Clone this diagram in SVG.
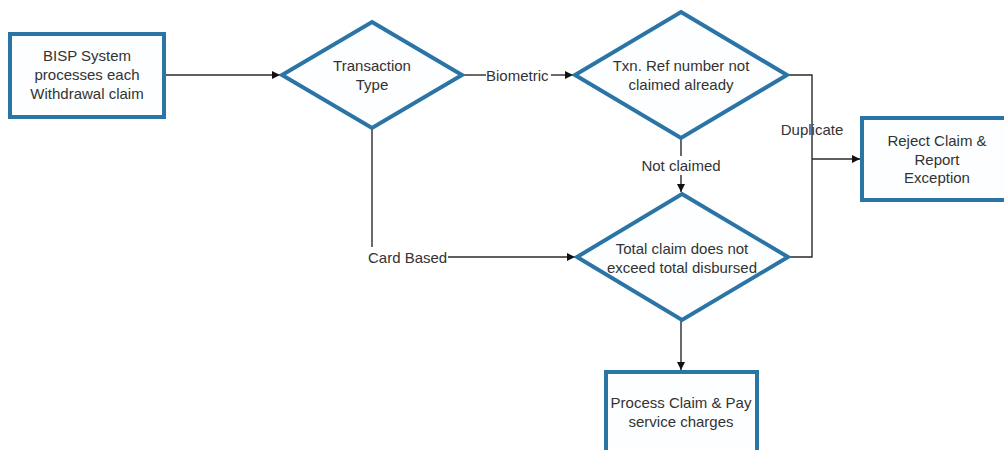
<svg xmlns="http://www.w3.org/2000/svg" width="1004" height="450" viewBox="0 0 1004 450">
<defs>
<style>
.node{fill:#fcfeff;stroke:#2b74a6;stroke-width:4;stroke-linejoin:miter}
.t{font-family:"Liberation Sans",Arial,sans-serif;font-size:15px;fill:#333;text-anchor:middle;dominant-baseline:central}
.lbl{font-family:"Liberation Sans",Arial,sans-serif;font-size:15px;fill:#333;dominant-baseline:central}
.c{fill:none;stroke:#2a2a2a;stroke-width:1.4}
</style>
<marker id="ah" viewBox="0 0 10 10" refX="10" refY="5" markerWidth="8" markerHeight="8" markerUnits="userSpaceOnUse" orient="auto">
<path d="M0,0 L10,5 L0,10 z" fill="#111"/>
</marker>
</defs>
<rect width="1004" height="450" fill="#ffffff"/>
<g id="connectors">
<path class="c" d="M164,75 H280" marker-end="url(#ah)"/>
<path class="c" d="M462,75 H486"/>
<path class="c" d="M551,75 H573" marker-end="url(#ah)"/>
<path class="c" d="M372,128 V247"/>
<path class="c" d="M448,257 H575" marker-end="url(#ah)"/>
<path class="c" d="M681,138 V156"/>
<path class="c" d="M681,175 V192" marker-end="url(#ah)"/>
<path class="c" d="M787,75 H812 V257 H788"/>
<path class="c" d="M812,159 H860" marker-end="url(#ah)"/>
<path class="c" d="M681,320 V370" marker-end="url(#ah)"/>
<text class="lbl" x="486" y="75">Biometric</text>
<text class="lbl" x="368" y="257">Card Based</text>
<text class="t" x="681" y="165">Not claimed</text>
<text class="t" x="812" y="129">Duplicate</text>
</g>
<g id="start">
<rect class="node" x="10" y="34" width="154" height="83"/>
<text class="t" x="87" y="55">BISP System</text>
<text class="t" x="87" y="74">processes each</text>
<text class="t" x="87" y="93">Withdrawal claim</text>
</g>
<g id="txnType">
<polygon class="node" points="372,22 462,75 372,128 282,75"/>
<text class="t" x="372" y="65">Transaction</text>
<text class="t" x="372" y="84">Type</text>
</g>
<g id="txnRef">
<polygon class="node" points="681,12 787,75 681,138 575,75"/>
<text class="t" x="681" y="65">Txn. Ref number not</text>
<text class="t" x="681" y="84">claimed already</text>
</g>
<g id="totalClaim">
<polygon class="node" points="682,194 788,257 682,320 577,257"/>
<text class="t" x="682" y="248">Total claim does not</text>
<text class="t" x="682" y="267">exceed total disbursed</text>
</g>
<g id="reject">
<rect class="node" x="862" y="118" width="148" height="82"/>
<text class="t" x="937" y="140">Reject Claim &amp;</text>
<text class="t" x="937" y="159">Report</text>
<text class="t" x="937" y="177">Exception</text>
</g>
<g id="process">
<rect class="node" x="606" y="372" width="151" height="90"/>
<text class="t" x="681" y="402">Process Claim &amp; Pay</text>
<text class="t" x="681" y="421">service charges</text>
</g>
</svg>
